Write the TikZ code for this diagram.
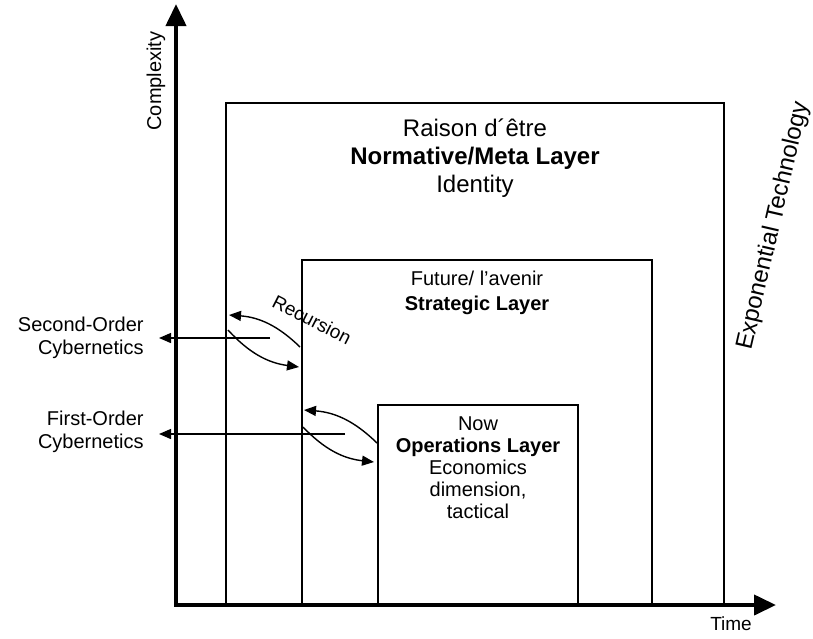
\documentclass[tikz,border=0pt]{standalone}
\usepackage{fontspec}
\setmainfont{Liberation Sans}
\usetikzlibrary{arrows.meta}

\tikzset{
  axis/.style={line width=2pt,line join=miter,{Triangle[length=11pt,width=10pt]}-{Triangle[length=11pt,width=10pt]}},
  layer/.style={line width=1.4pt},
  feed/.style={line width=0.7pt,-{Triangle[length=6pt,width=5pt]}},
  lbl/.style={font=\fontsize{10}{11.5}\selectfont,align=center,inner sep=0pt},
}

\begin{document}
\begin{tikzpicture}[x=0.5pt,y=-0.5pt]
    \useasboundingbox (0,0) rectangle (813,638);
    % axes
    \coordinate (origin) at (176,605);
    \coordinate (ytip) at (176,4);
    \coordinate (xtip) at (776,605);
    \draw[axis] (ytip) -- (origin) -- (xtip);
    \node[lbl,rotate=90] (complexity) at (156,81) {Complexity};
    \node[lbl,font=\fontsize{9.5}{11}\selectfont] (time) at (731,624) {Time};

    % the three layers
    \draw[layer] (226,605) |- (724,103) -- (724,605);
    \draw[layer] (302,605) |- (652,260) -- (652,605);
    \draw[layer] (378,605) |- (578,405) -- (578,605);

    \node[lbl,font=\fontsize{12}{14}\selectfont] (meta) at (475,158)
        {Raison d´être\\\textbf{Normative/Meta Layer}\\Identity};
    \node[lbl,font=\fontsize{10}{12.5}\selectfont] (strategic) at (477,293)
        {Future/ l’avenir\\\textbf{Strategic Layer}};
    \node[lbl,font=\fontsize{10}{11}\selectfont] (operations) at (478,468)
        {Now\\\textbf{Operations Layer}\\Economics\\dimension,\\tactical};
    \node[lbl,font=\fontsize{12}{14}\selectfont,rotate=77] (expo) at (774,226) {Exponential Technology};

    % cybernetics
    \node[lbl,align=right,anchor=east] (second) at (144,338) {Second-Order\\Cybernetics};
    \node[lbl,align=right,anchor=east] (first) at (144,432) {First-Order\\Cybernetics};
    \coordinate (h1) at (270,338);
    \coordinate (h1tip) at (159,338);
    \coordinate (h2) at (345,434);
    \coordinate (h2tip) at (159,434);
    \draw[feed] (h1) -- (h1tip);
    \draw[feed] (h2) -- (h2tip);

    % recursion loops
    \coordinate (r1a) at (300,347);
    \coordinate (r1b) at (229,315);
    \coordinate (r1c) at (228,330);
    \coordinate (r1d) at (299,367);
    \coordinate (r2a) at (377,443);
    \coordinate (r2b) at (304,410);
    \coordinate (r2c) at (303,427);
    \coordinate (r2d) at (374,462);
    \draw[feed] (r1a) to[bend right=20] (r1b);
    \draw[feed] (r1c) to[bend right=20] (r1d);
    \draw[feed] (r2a) to[bend right=20] (r2b);
    \draw[feed] (r2c) to[bend right=20] (r2d);
    \node[lbl,font=\fontsize{9.5}{11}\selectfont,rotate=-27] (recursion) at (312,320) {Recursion};
\end{tikzpicture}
\end{document}
